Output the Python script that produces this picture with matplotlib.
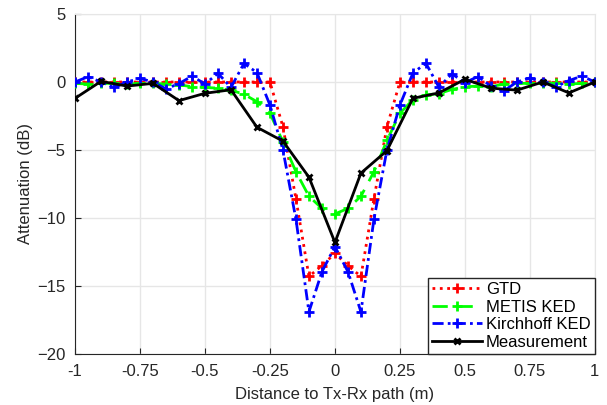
import numpy as np
import matplotlib
matplotlib.use("Agg")
import matplotlib.pyplot as plt

plt.rcParams['font.family'] = ['Liberation Sans', 'DejaVu Sans']

x_sim = np.round(np.arange(-1, 1.0001, 0.05), 2)
x_meas = np.round(np.arange(-1, 1.0001, 0.1), 2)

gtd = [0, 0, 0, 0, 0, 0, 0, 0, 0, 0, 0, 0, 0, 0, 0, 0,
       -3.3, -8.6, -14.3, -13.5, -12.6, -13.5, -14.3, -8.6, -3.3,
       0, 0, 0, 0, 0, 0, 0, 0, 0, 0, 0, 0, 0, 0, 0, 0]

metis = [-0.1, -0.15, -0.1, -0.1, -0.15, -0.1, -0.1, -0.15, -0.2, -0.35,
         -0.4, -0.45, -0.6, -0.9, -1.45, -2.3, -4.4, -6.6, -8.4, -9.3,
         -9.7, -9.3, -8.4, -6.6, -4.3, -2.3, -1.3, -0.95, -0.85, -0.55,
         -0.35, -0.3, -0.35, -0.15, -0.1, -0.1, -0.05, -0.1, -0.15, -0.1, 0.0]

kirchhoff = [0.0, 0.39, 0.0, -0.4, 0.0, 0.27, 0.0, -0.5, -0.12, 0.44,
             -0.15, 0.64, -0.4, 1.37, 0.69, -1.7, -5.0, -10.1, -16.9, -13.95,
             -12.1, -13.95, -16.9, -10.1, -5.0, -1.7, 0.66, 1.38, -0.38, 0.6,
             -0.05, 0.4, -0.3, -0.65, 0.0, 0.3, 0.0, -0.35, 0.1, 0.44, 0.0]

measurement = [-1.2, 0.05, -0.3, -0.1, -1.37, -0.83, -0.57, -3.33, -4.35, -7.0,
               -11.8, -6.7, -5.05, -1.2, -0.8, 0.2, -0.45, -0.6, 0.0, -0.8, 0.0]

xticks = [-1, -0.75, -0.5, -0.25, 0, 0.25, 0.5, 0.75, 1]
xticklabels = ['-1', '-0.75', '-0.5', '-0.25', '0', '0.25', '0.5', '0.75', '1']
yticks = [-20, -15, -10, -5, 0, 5]

fig = plt.figure(figsize=(6.07, 4.05), dpi=100)
ax = fig.add_axes([0.1236, 0.126, 0.8564, 0.8394])

ax.plot(x_sim, gtd, color=(1, 0, 0), linestyle=':', linewidth=2, marker='+',
        markersize=7, markeredgewidth=2, label='GTD', zorder=3)
ax.plot(x_sim, metis, color=(0, 1, 0), linestyle=(0, (5.5, 3.5)), linewidth=2, marker='+',
        markersize=7, markeredgewidth=2, label='METIS KED', zorder=4)
ax.plot(x_sim, kirchhoff, color=(0, 0, 1), linestyle=(0, (4, 1.5, 1, 1.5)), linewidth=2, marker='+',
        markersize=7, markeredgewidth=2, label='Kirchhoff KED', zorder=5)
ax.plot(x_meas, measurement, color='k', linestyle='-', linewidth=2, marker='x',
        markersize=5, markeredgewidth=2, label='Measurement', zorder=6)

ax.set_xlim(-1, 1)
ax.set_ylim(-20, 5)
ax.set_xticks(xticks)
ax.set_xticklabels(xticklabels)
ax.set_yticks(yticks)
ax.grid(True, color='#e6e6e6', linewidth=1)
ax.set_axisbelow(True)
for s in ['top', 'right']:
    ax.spines[s].set_color('#e6e6e6')
for s in ['left', 'bottom']:
    ax.spines[s].set_color('#262626')
ax.tick_params(direction='in', length=4, labelsize=12, colors='#262626', pad=7)
ax.tick_params(top=False, right=False)

ax.set_xlabel('Distance to Tx-Rx path (m)', fontsize=12, color='#262626', labelpad=6)
ax.set_ylabel('Attenuation (dB)', fontsize=12, color='#262626', labelpad=3)

leg = ax.legend(loc='lower right', borderaxespad=0, fontsize=12, fancybox=False,
                framealpha=1, edgecolor='#262626', handlelength=3.0,
                labelspacing=0.15, handletextpad=0.25, borderpad=0.25)
leg.get_frame().set_linewidth(1)

fig.savefig('out.png', dpi=100)
